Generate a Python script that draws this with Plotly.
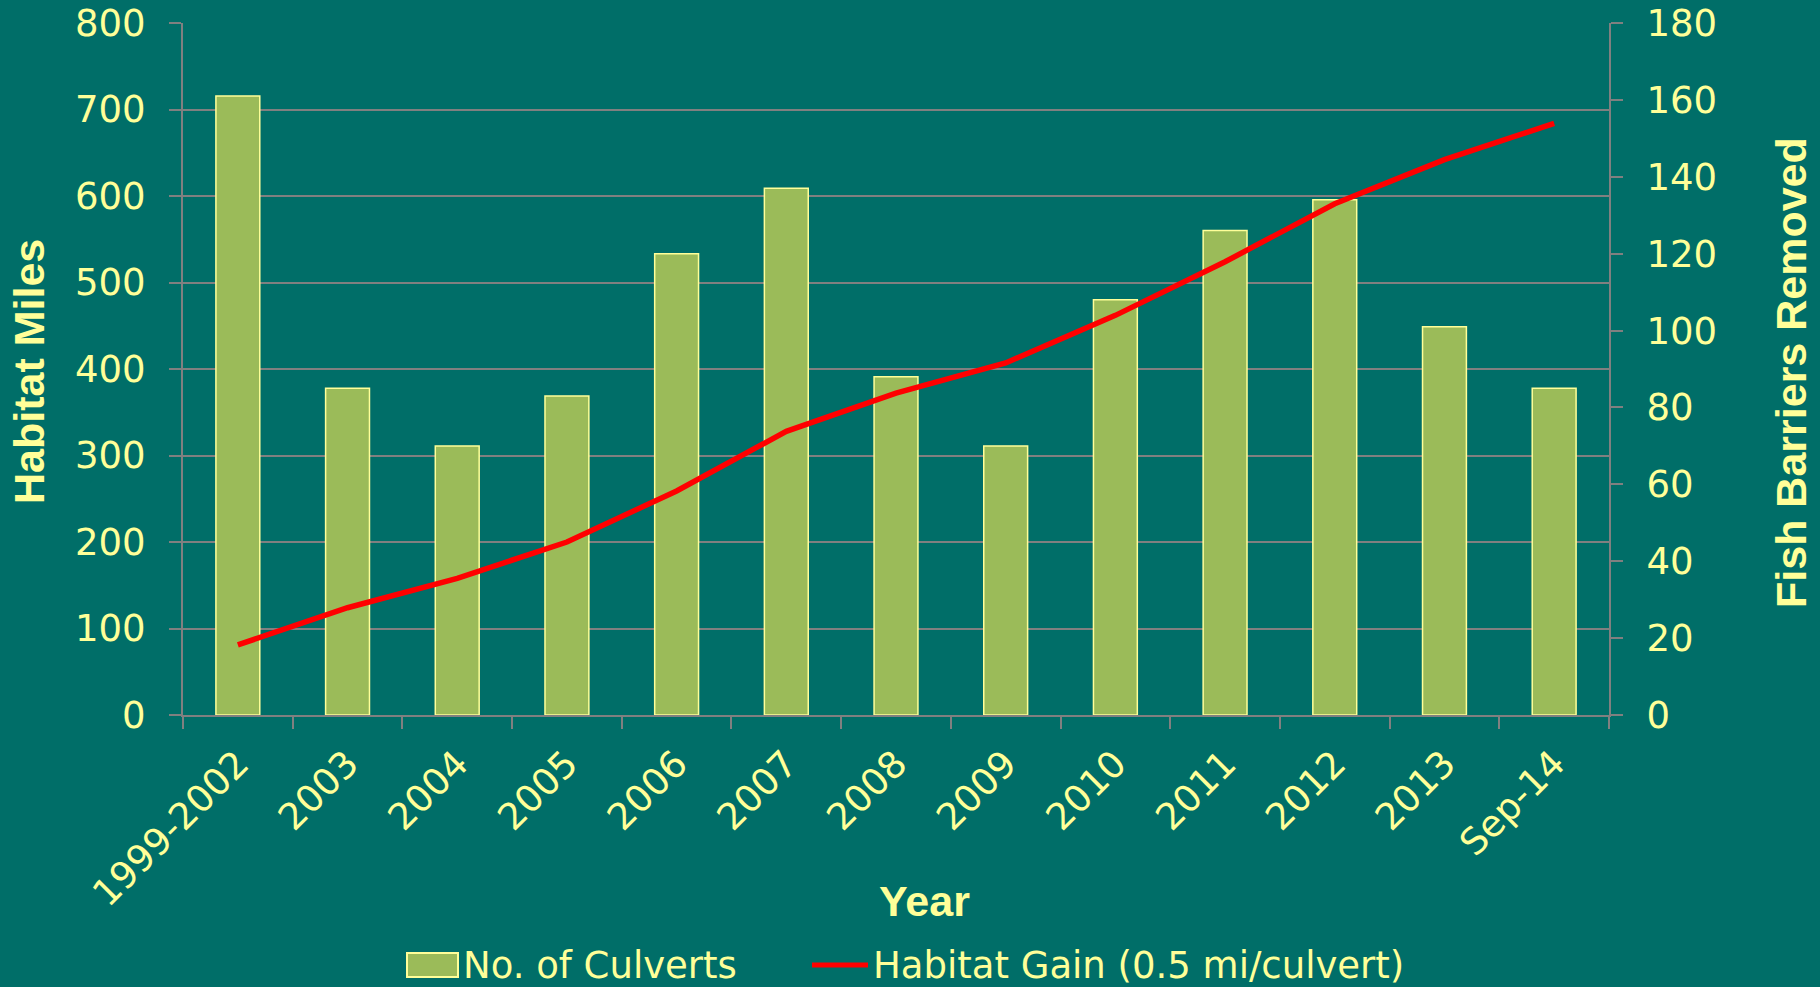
import plotly.graph_objects as go

years = ["1999-2002", "2003", "2004", "2005", "2006", "2007", "2008",
         "2009", "2010", "2011", "2012", "2013", "Sep-14"]
culverts = [161, 85, 70, 83, 120, 137, 88, 70, 108, 126, 134, 101, 85]
habitat_gain = [81, 124, 158, 200, 259, 328, 372, 407, 462, 524, 591, 642, 684]
left_ticks = [0, 100, 200, 300, 400, 500, 600, 700, 800]
right_ticks = [0, 20, 40, 60, 80, 100, 120, 140, 160, 180]

BG = "#006E68"
TXT = "#FFFF99"
GRID = "#808080"
BAR = "#9BBB59"
RED = "#FF0000"
W, H = 1820, 987
ML, MR, MT, MB = 183, 211, 23, 272
PW, PH = W - ML - MR, H - MT - MB

fig = go.Figure()
fig.add_trace(go.Bar(
    x=years, y=culverts, name="No. of Culverts", yaxis="y",
    marker=dict(color=BAR, line=dict(color=TXT, width=1.5)),
    width=0.4, showlegend=False,
))
fig.add_trace(go.Scatter(
    x=years, y=habitat_gain, name="Habitat Gain (0.5 mi/culvert)", yaxis="y2",
    mode="lines", line=dict(color=RED, width=5.5), showlegend=False,
    cliponaxis=False,
))

tickfont = dict(family="DejaVu Sans", size=37, color=TXT)
fig.update_layout(
    width=W, height=H,
    paper_bgcolor=BG, plot_bgcolor=BG,
    margin=dict(l=ML, r=MR, t=MT, b=MB, autoexpand=False),
    xaxis=dict(
        type="category", showgrid=False, showline=True, linecolor=GRID, linewidth=2,
        ticks="outside", tickson="boundaries", ticklen=12, tickcolor=GRID, tickwidth=2,
        tickangle=-45, tickfont=tickfont, automargin=False, ticklabelstandoff=10,
    ),
    yaxis=dict(
        side="right", range=[0, 180], tickvals=right_ticks, showgrid=False,
        showline=True, linecolor=GRID, linewidth=2,
        ticks="outside", ticklen=12, tickcolor=GRID, tickwidth=2,
        tickfont=tickfont, ticklabelstandoff=16, zeroline=False, automargin=False,
    ),
    yaxis2=dict(
        side="left", overlaying="y", range=[0, 800], tickvals=left_ticks,
        showgrid=True, gridcolor=GRID, gridwidth=2,
        showline=True, linecolor=GRID, linewidth=2,
        ticks="outside", ticklen=12, tickcolor=GRID, tickwidth=2,
        tickfont=tickfont, ticklabelstandoff=16, zeroline=False, automargin=False,
    ),
    showlegend=False,
)

def px(x):
    return (x - ML) / PW

def py(y):
    return (H - MB - y) / PH

title_font = dict(family="Liberation Sans", size=43, color=TXT)
anns = [
    dict(text="<b>Habitat Miles</b>", x=px(29), y=py(372), textangle=-90, font=title_font),
    dict(text="<b>Fish Barriers Removed</b>", x=px(1791), y=py(373), textangle=-90, font=title_font),
    dict(text="<b>Year</b>", x=px(925), y=py(901), font=title_font),
]
legend_font = dict(family="DejaVu Sans", size=37, color=TXT)
anns += [
    dict(text="No. of Culverts", x=px(461), y=py(965), xanchor="left", font=legend_font),
    dict(text="Habitat Gain (0.5 mi/culvert)", x=px(871), y=py(965), xanchor="left", font=legend_font),
]
for a in anns:
    a.setdefault("xanchor", "center")
    a.update(xref="paper", yref="paper", yanchor="middle", showarrow=False)
fig.update_layout(annotations=anns)

fig.add_shape(type="rect", xref="paper", yref="paper",
              x0=px(407), x1=px(458), y0=py(977), y1=py(953),
              fillcolor=BAR, line=dict(color=TXT, width=2))
fig.add_shape(type="line", xref="paper", yref="paper",
              x0=px(812), x1=px(868), y0=py(965), y1=py(965),
              line=dict(color=RED, width=5))

fig.write_html("out.html")
